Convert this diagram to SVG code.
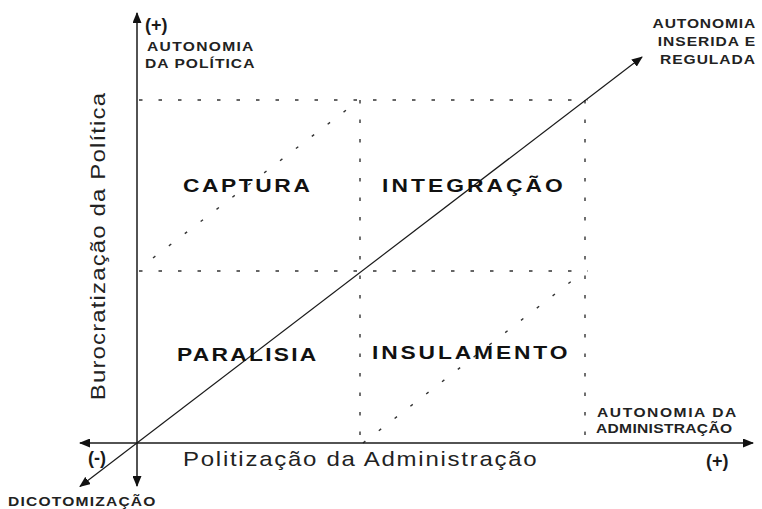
<svg xmlns="http://www.w3.org/2000/svg" width="762" height="509" viewBox="0 0 762 509">
<style>
.ax{stroke:#1a1a1a;stroke-width:1.5;fill:none}
.dg{stroke:#1a1a1a;stroke-width:1.2;fill:none}
.dot{stroke:#333;stroke-width:1.4;fill:none;stroke-dasharray:3.5 16}
.dash{stroke:#333;stroke-width:1.4;fill:none;stroke-dasharray:3 17}
.q{font-family:"Liberation Sans",Arial,sans-serif;font-weight:bold;font-size:19px;fill:#111}
.s{font-family:"Liberation Sans",Arial,sans-serif;font-weight:bold;font-size:13px;fill:#222}
.t{font-family:"Liberation Sans",Arial,sans-serif;font-size:20px;fill:#222}
.p{font-family:"Liberation Sans",Arial,sans-serif;font-weight:bold;font-size:18px;fill:#1a1a1a}
</style>
<defs>
<marker id="ah" markerUnits="userSpaceOnUse" markerWidth="11" markerHeight="9" refX="10" refY="4.5" orient="auto-start-reverse">
<path d="M0,0 L11,4.5 L0,9 z" fill="#111"/>
</marker>
</defs>
<rect width="762" height="509" fill="#fff"/>
<g id="grid">
<line class="dot" x1="139" y1="100" x2="588" y2="100"/>
<line class="dot" x1="139" y1="271" x2="588" y2="271"/>
<line class="dot" x1="360" y1="100" x2="360" y2="443"/>
<line class="dot" x1="585" y1="100" x2="585" y2="443"/>
<line class="dash" x1="153" y1="258" x2="358" y2="101"/>
<line class="dash" x1="363" y1="443" x2="582" y2="273"/>
</g>
<g id="connectors">
<line class="ax" x1="137" y1="486" x2="137" y2="13" marker-start="url(#ah)" marker-end="url(#ah)"/>
<line class="ax" x1="80" y1="443" x2="753" y2="443" marker-start="url(#ah)" marker-end="url(#ah)"/>
<line class="dg" x1="80" y1="486.5" x2="642" y2="57" marker-start="url(#ah)" marker-end="url(#ah)"/>
</g>
<g id="captura"><text class="q" transform="translate(183,192) scale(1.2,1)" style="letter-spacing:2.15px">CAPTURA</text></g>
<g id="integracao"><text class="q" transform="translate(382,192) scale(1.2,1)" style="letter-spacing:2.55px">INTEGRAÇÃO</text></g>
<g id="paralisia"><text class="q" transform="translate(177,361) scale(1.2,1)" style="letter-spacing:1.9px">PARALISIA</text></g>
<g id="insulamento"><text class="q" transform="translate(372,359) scale(1.2,1)" style="letter-spacing:2.4px">INSULAMENTO</text></g>
<g id="y-axis-label">
<text class="t" text-anchor="middle" transform="translate(105,246) rotate(-90) scale(1.2,1)" style="letter-spacing:0.95px">Burocratização da Política</text>
<text class="p" x="145" y="31">(+)</text>
<text class="s" transform="translate(147,51) scale(1.2,1)" style="letter-spacing:1.1px">AUTONOMIA</text>
<text class="s" transform="translate(145,68) scale(1.2,1)" style="letter-spacing:0.87px">DA POLÍTICA</text>
</g>
<g id="x-axis-label">
<text class="t" transform="translate(183,466) scale(1.2,1)" style="letter-spacing:1.45px">Politização da Administração</text>
<text class="p" x="88" y="464">(-)</text>
<text class="p" x="706" y="467">(+)</text>
<text class="s" transform="translate(597,417) scale(1.2,1)" style="letter-spacing:1.3px">AUTONOMIA DA</text>
<text class="s" transform="translate(596,433) scale(1.2,1)" style="letter-spacing:0.25px">ADMINISTRAÇÃO</text>
</g>
<g id="dicotomizacao"><text class="s" transform="translate(8,506) scale(1.2,1)" style="letter-spacing:1px">DICOTOMIZAÇÃO</text></g>
<g id="autonomia-inserida">
<text class="s" text-anchor="end" transform="translate(756,28) scale(1.2,1)" style="letter-spacing:0.7px">AUTONOMIA</text>
<text class="s" text-anchor="end" transform="translate(756,46) scale(1.2,1)" style="letter-spacing:0.8px">INSERIDA E</text>
<text class="s" text-anchor="end" transform="translate(756,64) scale(1.2,1)" style="letter-spacing:0.8px">REGULADA</text>
</g>
</svg>
